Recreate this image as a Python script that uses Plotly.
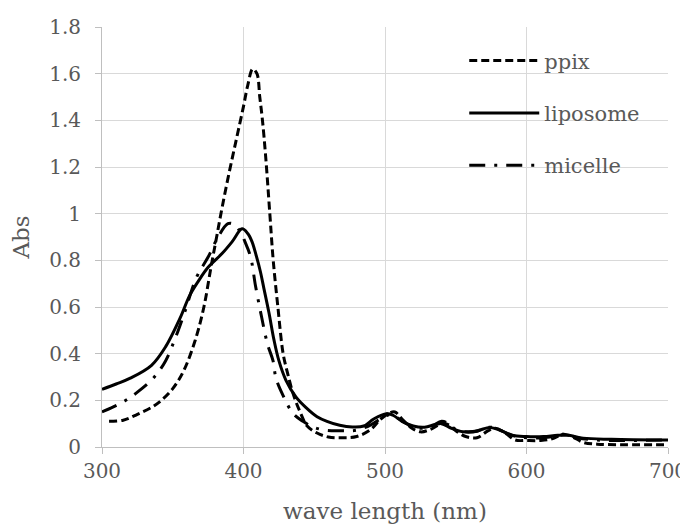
import plotly.graph_objects as go

# ---- data ----
ppix_x = [305, 315, 325, 335, 342, 350, 358, 366, 372, 377, 381, 385, 390, 395, 400, 403,
          406.5, 409.5, 411.5, 413.4, 415.6, 418.6, 421, 424.3, 428, 431, 435, 440, 445, 452,
          460, 470, 480, 490, 497, 503, 507, 512, 518, 525, 532, 540, 545, 550, 557, 565,
          573, 578, 585, 592, 600, 610, 618, 626, 632, 640, 650, 670, 700]
ppix_y = [0.11, 0.115, 0.14, 0.17, 0.20, 0.25, 0.33, 0.46, 0.6, 0.77, 0.9, 1.03, 1.18,
          1.32, 1.46, 1.55, 1.62, 1.6, 1.5, 1.4, 1.25, 1.0, 0.8, 0.6, 0.4, 0.32, 0.23, 0.15,
          0.09, 0.06, 0.043, 0.04, 0.045, 0.075, 0.12, 0.145, 0.15, 0.12, 0.085, 0.065, 0.075,
          0.1, 0.095, 0.07, 0.045, 0.04, 0.07, 0.08, 0.06, 0.03, 0.028, 0.028, 0.035, 0.055,
          0.045, 0.02, 0.012, 0.01, 0.01]

lipo_x = [300, 310, 320, 335, 345, 355, 362, 368, 375, 385, 392, 399, 403, 406, 409, 412,
          414.4, 418, 421.5, 425, 430, 437, 444, 452, 459, 468, 477, 485, 492, 501, 506, 512,
          520, 528, 535, 540, 547, 555, 563, 573, 580, 590, 600, 612, 622, 630, 640, 660, 700]
lipo_y = [0.247, 0.27, 0.295, 0.35, 0.43, 0.55, 0.65, 0.71, 0.77, 0.83, 0.88, 0.935, 0.915,
          0.88, 0.82, 0.75, 0.68, 0.575, 0.46, 0.37, 0.286, 0.215, 0.17, 0.13, 0.11, 0.093,
          0.086, 0.09, 0.12, 0.143, 0.135, 0.11, 0.09, 0.085, 0.095, 0.1, 0.08, 0.065, 0.065,
          0.083, 0.075, 0.05, 0.045, 0.045, 0.05, 0.05, 0.038, 0.033, 0.03]

mic_x = [300, 308, 316, 325, 337, 345, 352, 358, 367, 375, 382, 389, 393, 398, 401, 405,
         408.5, 412.8, 417, 420.8, 423, 428, 435, 442, 449, 458, 470, 480, 490, 498, 505, 510,
         517, 525, 533, 540, 545, 550, 558, 566, 574, 580, 590, 600, 612, 622, 628, 636, 650, 700]
mic_y = [0.15, 0.172, 0.197, 0.235, 0.30, 0.37, 0.47, 0.57, 0.73, 0.814, 0.9, 0.957, 0.955,
         0.92, 0.88, 0.815, 0.69, 0.557, 0.44, 0.371, 0.294, 0.22, 0.144, 0.11, 0.086, 0.072,
         0.07, 0.072, 0.095, 0.125, 0.14, 0.12, 0.095, 0.08, 0.09, 0.11, 0.1, 0.075, 0.065,
         0.07, 0.085, 0.075, 0.05, 0.04, 0.04, 0.048, 0.055, 0.04, 0.03, 0.03]

names = ["ppix", "liposome", "micelle"]
x_ticks = [300, 400, 500, 600, 700]

FONT = "DejaVu Serif"
GREY = "#595959"
GRID = "#d9d9d9"
AXIS = "#bfbfbf"

fig = go.Figure()
series = [(ppix_x, ppix_y, "8px,4px"),
          (lipo_x, lipo_y, "solid"),
          (mic_x, mic_y, "16px,9px,3px,9px")]
for name, (xs, ys, dash) in zip(names, series):
    fig.add_trace(go.Scatter(
        x=xs, y=ys, name=name, mode="lines", legendgroup=name,
        line=dict(color="black", width=3, dash=dash, shape="spline", smoothing=1.0),
    ))

# page body adds an 8px offset, so the figure is 680x522
fig.update_layout(
    width=680, height=522,
    margin=dict(l=94, r=20, t=19, b=83),
    paper_bgcolor="white", plot_bgcolor="white",
    font=dict(family=FONT, size=20, color=GREY),
    showlegend=True,
    legend=dict(x=0.64, y=0.968, xanchor="left", yanchor="top",
                itemwidth=70, tracegroupgap=22, traceorder="grouped",
                bgcolor="rgba(0,0,0,0)", font=dict(family=FONT, size=21, color=GREY)),
    xaxis=dict(range=[300, 700], tickvals=x_ticks, showgrid=True, gridcolor=GRID,
               gridwidth=1, showline=True, linecolor=AXIS, linewidth=1,
               ticks="outside", ticklen=6, tickcolor=AXIS, zeroline=False,
               automargin=False, ticklabelstandoff=0,
               title=dict(text="wave length (nm)", font=dict(size=23, color=GREY), standoff=20),
               tickfont=dict(size=20, color=GREY)),
    yaxis=dict(range=[0, 1.8], dtick=0.2, showgrid=True, gridcolor=GRID, gridwidth=1,
               showline=True, linecolor=AXIS, linewidth=1, ticks="outside", ticklen=6,
               tickcolor=AXIS, zeroline=False, automargin=False, ticklabelstandoff=10,
               title=dict(text="Abs", font=dict(size=23, color=GREY), standoff=18),
               tickfont=dict(size=20, color=GREY)),
)

fig.write_html("out.html")
